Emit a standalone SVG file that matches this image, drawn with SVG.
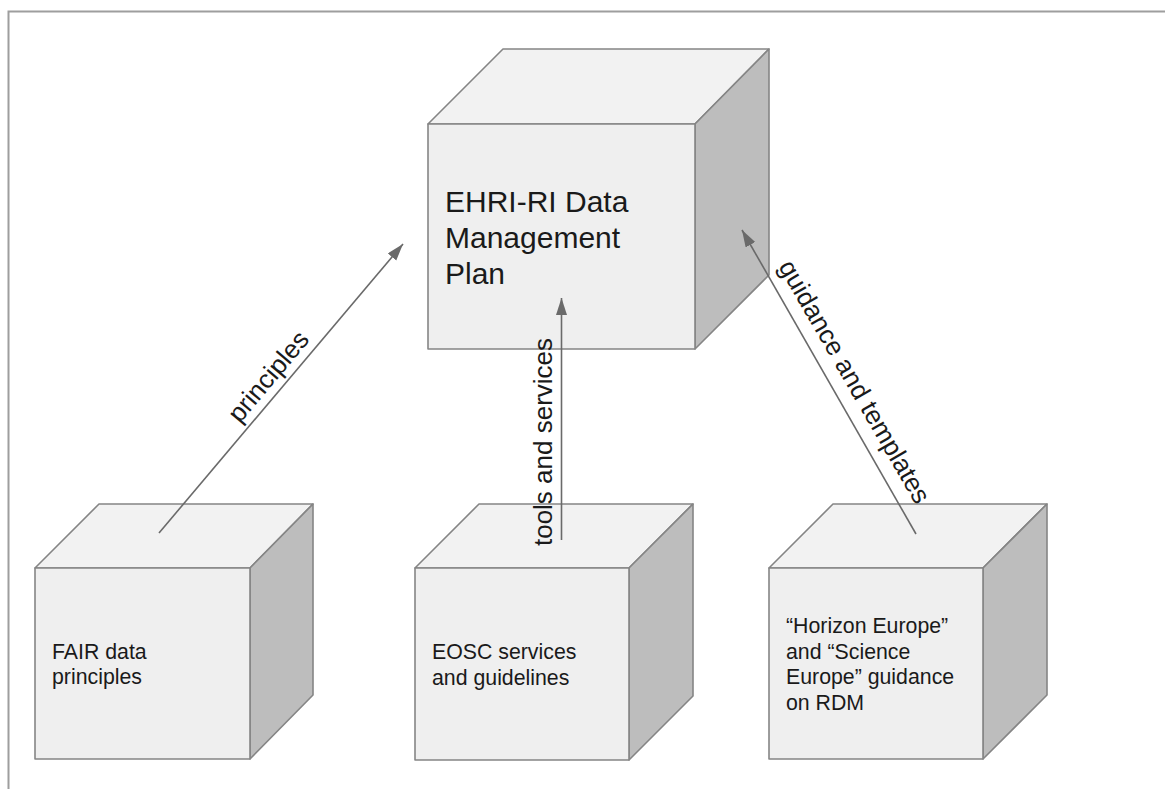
<svg xmlns="http://www.w3.org/2000/svg" width="1165" height="789" viewBox="0 0 1165 789">
<style>
.front{fill:#efefef;stroke:#858585;stroke-width:1.6;stroke-linejoin:round}
.top{fill:#f2f2f2;stroke:#858585;stroke-width:1.6;stroke-linejoin:round}
.side{fill:#bdbdbd;stroke:#858585;stroke-width:1.6;stroke-linejoin:round}
.big{font-family:"Liberation Sans",Arial,sans-serif;font-size:30px;fill:#1a1a1a}
.txt{font-family:"Liberation Sans",Arial,sans-serif;font-size:21.3px;fill:#1a1a1a}
.lbl{font-family:"Liberation Sans",Arial,sans-serif;font-size:26px;fill:#1a1a1a}
.conn{stroke:#6a6a6a;stroke-width:1.6;fill:none}
.frame{stroke:#9e9e9e;stroke-width:2;fill:none}
</style>
<defs>
<marker id="arrow" markerUnits="userSpaceOnUse" markerWidth="18" markerHeight="12" refX="17" refY="5.5" orient="auto">
<path d="M0,0 L17,5.5 L0,11 z" fill="#6a6a6a"/>
</marker>
</defs>
<rect width="1165" height="789" fill="#ffffff"/>
<path class="frame" d="M8.5,789 V11.5 H1165"/>

<g id="node-dmp">
<polygon class="top" points="428,124 503,49 769,49 695,124"/>
<polygon class="side" points="695,124 769,49 769,275 695,349"/>
<rect class="front" x="428" y="124" width="267" height="225"/>
<text class="big" x="445" y="212">EHRI-RI Data</text>
<text class="big" x="445" y="248">Management</text>
<text class="big" x="445" y="284">Plan</text>
</g>

<g id="node-fair">
<polygon class="top" points="35,568 99,504 313,504 250,568"/>
<polygon class="side" points="250,568 313,504 313,695 250,759"/>
<rect class="front" x="35" y="568" width="215" height="191"/>
<text class="txt" x="52" y="659">FAIR data</text>
<text class="txt" x="52" y="684">principles</text>
</g>

<g id="node-eosc">
<polygon class="top" points="415,568 479,504 693,504 629,568"/>
<polygon class="side" points="629,568 693,504 693,696 629,760"/>
<rect class="front" x="415" y="568" width="214" height="192"/>
<text class="txt" x="432" y="659">EOSC services</text>
<text class="txt" x="432" y="685">and guidelines</text>
</g>

<g id="node-horizon">
<polygon class="top" points="769,568 833,504 1047,504 983,568"/>
<polygon class="side" points="983,568 1047,504 1047,695 983,759"/>
<rect class="front" x="769" y="568" width="214" height="191"/>
<text class="txt" x="786" y="633">“Horizon Europe”</text>
<text class="txt" x="786" y="659">and “Science</text>
<text class="txt" x="786" y="684">Europe” guidance</text>
<text class="txt" x="786" y="710">on RDM</text>
</g>

<g id="connectors">
<line class="conn" x1="159" y1="533" x2="403" y2="244" marker-end="url(#arrow)"/>
<line class="conn" x1="561.5" y1="540" x2="561.5" y2="298" marker-end="url(#arrow)"/>
<line class="conn" x1="916" y1="534" x2="742" y2="230" marker-end="url(#arrow)"/>
<text class="lbl" text-anchor="middle" transform="translate(275,382) rotate(-50)">principles</text>
<text class="lbl" text-anchor="middle" transform="translate(552,442) rotate(-90)">tools and services</text>
<text class="lbl" text-anchor="middle" transform="translate(847,386) rotate(60)">guidance and templates</text>
</g>
</svg>
